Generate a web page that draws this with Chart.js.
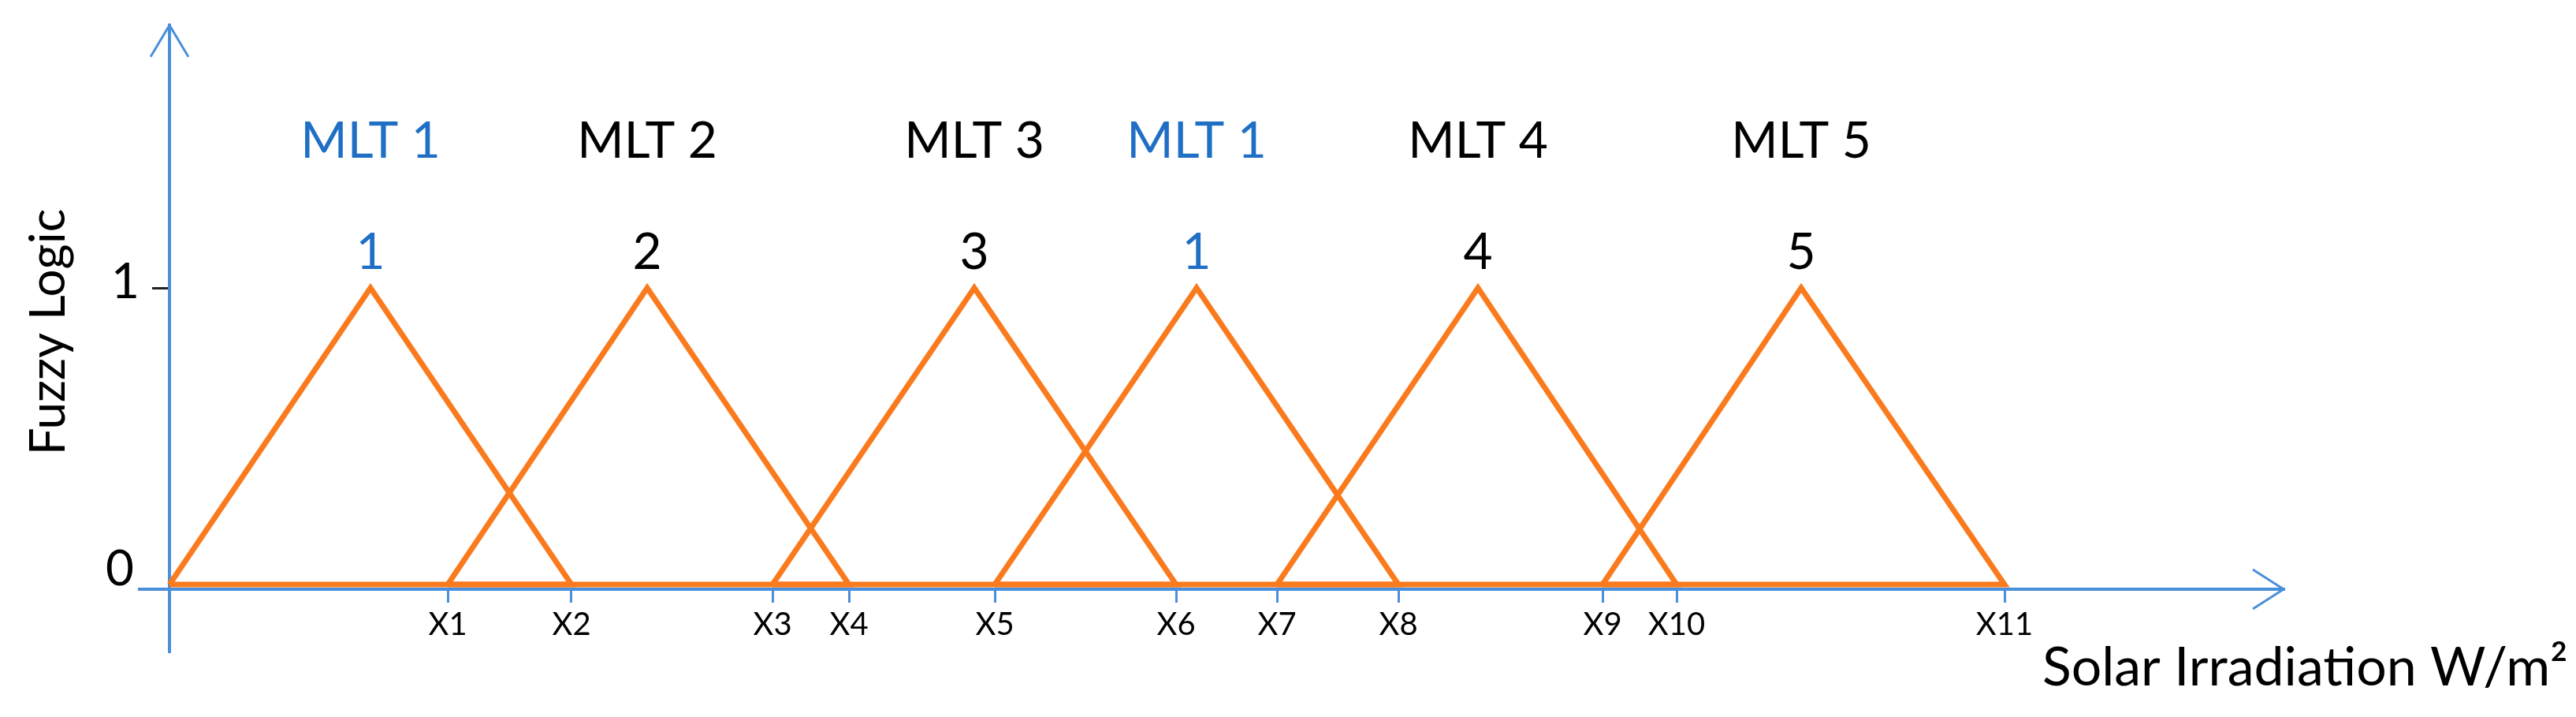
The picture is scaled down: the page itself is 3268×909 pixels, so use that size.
<!DOCTYPE html>
<html>
<head>
<meta charset="utf-8">
<script src="https://cdn.jsdelivr.net/npm/chart.js@4.4.1/dist/chart.umd.min.js"></script>
<style>
  html, body { margin: 0; padding: 0; background: #fff; }
  #wrap { width: 3268px; height: 909px; }
</style>
</head>
<body>
<div id="wrap"><canvas id="fuzzyChart" width="3268" height="909"></canvas></div>
<script>
// triangular membership sets (x in relative irradiation units, origin = 0)
const setNames = ['MLT 1', 'MLT 2', 'MLT 3', 'MLT 1', 'MLT 4', 'MLT 5'];
const peakLabels = ['1', '2', '3', '1', '4', '5'];
const setStart = [0, 35.3, 76.5, 104.7, 140.5, 181.8];
const setPeak = [25.5, 60.6, 102.1, 130.3, 166.0, 207.0];
const setEnd = [51.0, 86.2, 127.7, 155.9, 191.2, 232.8];

// x axis break points
const xTickValues = [35.3, 51.0, 76.5, 86.2, 104.7, 127.7, 140.5, 155.9, 181.8, 191.2, 232.8];
const xTickLabels = ['X1', 'X2', 'X3', 'X4', 'X5', 'X6', 'X7', 'X8', 'X9', 'X10', 'X11'];
const yTickValues = [0, 1];
const yTickLabels = ['0', '1'];

const ORANGE = '#FA7A1E';
const AXIS_BLUE = '#4A8FDB';
const TEXT_BLUE = '#1F6FC5';
const FONT = 'Lato, "Open Sans", sans-serif';

function buildDatasets() {
  return setNames.map((name, i) => ({
    label: name,
    data: [
      { x: setStart[i], y: 0 },
      { x: setPeak[i], y: 1 },
      { x: setEnd[i], y: 0 },
      { x: setStart[i], y: 0 }
    ],
    showLine: true,
    borderColor: ORANGE,
    borderWidth: 7,
    borderJoinStyle: 'miter',
    pointRadius: 0,
    fill: false,
    tension: 0
  }));
}

// labels above the peaks, y tick labels, axis arrows and axis titles
const annotations = {
  id: 'annotations',
  afterDraw(chart) {
    const { ctx, chartArea } = chart;
    const xs = chart.scales.x;
    const ys = chart.scales.y;
    const x0 = xs.getPixelForValue(0);
    const yAxis = ys.getPixelForValue(-0.016);
    const yTop = ys.getPixelForValue(1);

    ctx.save();
    ctx.textAlign = 'center';
    ctx.textBaseline = 'middle';
    ctx.font = '64px ' + FONT;
    setNames.forEach((name, i) => {
      const px = xs.getPixelForValue(setPeak[i]);
      ctx.fillStyle = name === 'MLT 1' ? TEXT_BLUE : '#000';
      ctx.fillText(name, px, yTop - 186);
      ctx.fillText(peakLabels[i], px, yTop - 45);
    });

    // y tick labels: "0" sits above the x axis, "1" beside its tick
    ctx.fillStyle = '#000';
    ctx.textAlign = 'right';
    ctx.font = '62px ' + FONT;
    yTickValues.forEach((v, i) => {
      const py = ys.getPixelForValue(v);
      if (v === 0) ctx.fillText(yTickLabels[i], x0 - 45, py - 19);
      else ctx.fillText(yTickLabels[i], x0 - 38, py - 7);
    });

    // arrow heads
    ctx.strokeStyle = AXIS_BLUE;
    ctx.lineWidth = 3;
    ctx.beginPath();
    ctx.moveTo(chartArea.right - 39, yAxis - 25);
    ctx.lineTo(chartArea.right, yAxis);
    ctx.lineTo(chartArea.right - 39, yAxis + 25);
    ctx.moveTo(x0 - 24, chartArea.top + 40);
    ctx.lineTo(x0, chartArea.top);
    ctx.lineTo(x0 + 24, chartArea.top + 40);
    ctx.stroke();

    // axis titles
    ctx.fillStyle = '#000';
    ctx.font = '68px ' + FONT;
    ctx.textAlign = 'left';
    ctx.fillText('Solar Irradiation W/m\u00B2', 2591, 847);

    ctx.translate(62, 421);
    ctx.rotate(-Math.PI / 2);
    ctx.textAlign = 'center';
    ctx.font = '62px ' + FONT;
    ctx.fillText('Fuzzy Logic', 0, 0);
    ctx.restore();
  }
};

new Chart(document.getElementById('fuzzyChart'), {
  type: 'scatter',
  data: { datasets: buildDatasets() },
  options: {
    responsive: false,
    devicePixelRatio: 1,
    animation: false,
    layout: { padding: { left: 177, right: 371, top: 32, bottom: 83 } },
    plugins: { legend: { display: false }, tooltip: { enabled: false } },
    scales: {
      x: {
        type: 'linear',
        min: -3.8,
        max: 268.2,
        position: { y: -0.016 },
        afterBuildTicks: (scale) => {
          scale.ticks = xTickValues.map(v => ({ value: v }));
        },
        grid: {
          drawOnChartArea: false,
          color: AXIS_BLUE,
          lineWidth: 3,
          tickLength: 15
        },
        border: { display: true, color: AXIS_BLUE, width: 4 },
        ticks: {
          autoSkip: false,
          maxRotation: 0,
          padding: 6,
          color: '#000',
          font: { family: FONT, size: 40 },
          callback: (value, index) => xTickLabels[index]
        }
      },
      y: {
        type: 'linear',
        min: -0.226,
        max: 1.886,
        position: { x: 0 },
        afterBuildTicks: (scale) => {
          scale.ticks = yTickValues.map(v => ({ value: v }));
        },
        grid: {
          drawOnChartArea: false,
          color: (c) => (c.tick && c.tick.value === 0 ? 'rgba(0,0,0,0)' : '#222'),
          lineWidth: 3,
          tickLength: 20
        },
        border: { display: true, color: AXIS_BLUE, width: 4 },
        ticks: { display: false }
      }
    }
  },
  plugins: [annotations]
});
</script>
</body>
</html>
